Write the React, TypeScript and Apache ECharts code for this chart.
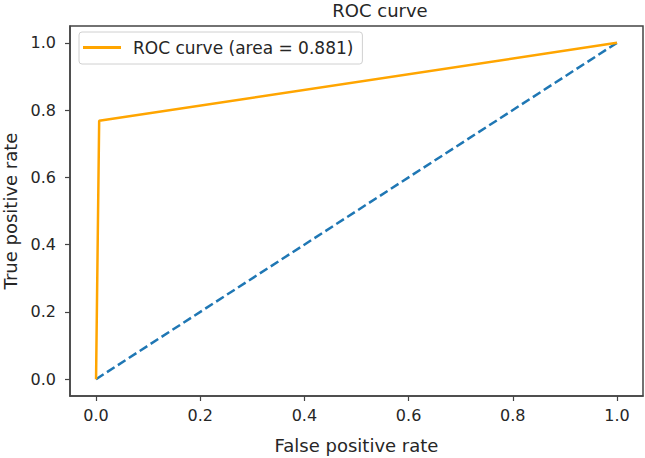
import React, { useEffect, useRef } from "react";
import * as echarts from "echarts";

const rocFpr = [0, 0.006, 1];
const rocTpr = [0, 0.768, 1];
const diagX = [0, 1];
const diagY = [0, 1];
const tickValues = [0, 0.2, 0.4, 0.6, 0.8, 1.0];
const rocLabel = "ROC curve (area = 0.881)";

const FONT = "DejaVu Sans";
const TXT = "#262626";

export default function App() {
  const ref = useRef<HTMLDivElement>(null);
  useEffect(() => {
    if (!ref.current) return;
    const chart = echarts.init(ref.current, undefined, { renderer: "svg" });
    const axisCommon = {
      type: "value" as const,
      min: -0.05,
      max: 1.05,
      splitLine: { show: false },
      axisLine: { show: true, onZero: false, lineStyle: { color: "#444", width: 1.5 } },
      axisTick: { show: true, customValues: tickValues, length: 5, lineStyle: { color: "#444", width: 1.2 } },
      nameLocation: "middle" as const,
      nameTextStyle: { color: TXT, fontSize: 18, fontFamily: FONT },
    };
    const labelCommon = {
      customValues: tickValues,
      formatter: (v: number) => v.toFixed(1),
      color: TXT,
      fontSize: 16,
      fontFamily: FONT,
    };
    chart.setOption({
      animation: false,
      backgroundColor: "#fff",
      title: {
        text: "ROC curve",
        left: 375,
        textAlign: "center",
        top: -4,
        textStyle: { fontSize: 18, fontWeight: "normal", color: TXT, fontFamily: FONT },
      },
      grid: {
        left: 70,
        right: 2,
        top: 26,
        bottom: 62,
        containLabel: false,
        outerBoundsMode: "none",
        show: true,
        borderColor: "#444",
        borderWidth: 1.5,
        backgroundColor: "#fff",
      },
      legend: {
        data: [rocLabel],
        icon: "rect",
        left: 79,
        top: 32,
        backgroundColor: "#fff",
        borderColor: "#d0d0d0",
        borderWidth: 1,
        borderRadius: 3,
        padding: [7, 9, 8, 4],
        itemWidth: 38,
        itemHeight: 3,
        textStyle: { fontSize: 17, color: TXT, fontFamily: FONT, padding: [0, 0, 0, 7] },
      },
      xAxis: {
        ...axisCommon,
        axisLabel: { ...labelCommon, margin: 11 },
        name: "False positive rate",
        nameGap: 40,
      },
      yAxis: {
        ...axisCommon,
        axisLabel: { ...labelCommon, margin: 14 },
        name: "True positive rate",
        nameGap: 49,
        nameRotate: 90,
      },
      series: [
        {
          name: "diag",
          type: "line",
          data: diagX.map((x, i) => [x, diagY[i]]),
          symbol: "none",
          lineStyle: { color: "#1f77b4", width: 2.5, type: [9, 4] },
          z: 2,
        },
        {
          name: rocLabel,
          type: "line",
          data: rocFpr.map((x, i) => [x, rocTpr[i]]),
          symbol: "none",
          itemStyle: { color: "#ffa500" },
          lineStyle: { color: "#ffa500", width: 2.5 },
          z: 3,
        },
      ],
    });
    return () => chart.dispose();
  }, []);
  return (
    <div
      ref={ref}
      style={{ width: 645, height: 458, position: "absolute", left: 0, top: 0 }}
    />
  );
}
